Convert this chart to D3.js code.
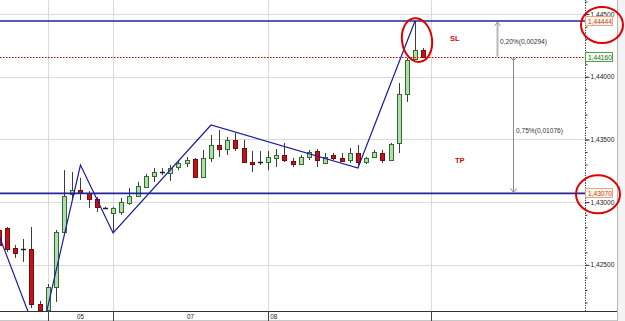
<!DOCTYPE html>
<html><head><meta charset="utf-8">
<script src="https://cdn.jsdelivr.net/npm/d3@7"></script>
<style>html,body{margin:0;padding:0;background:#fff;overflow:hidden}svg{display:block}text{font-family:"Liberation Sans",Arial,sans-serif}</style>
</head><body><svg id="c" width="625" height="321"></svg>
<script>
// ---- data ----
const idx    = [-1,0,1,2,3,4,5,6,7,8,9,10,11,12,13,14,15,16,17,18,19,20,21,22,23,24,25,26,27,28,29,30,31,32,33,34,35,36,37,38,39,40,41,42,43,44,45,46,47,48,49,50,51];
const opens  = [1.42778,1.42794,1.42634,1.42626,1.42626,1.42188,1.42140,1.42323,1.42762,1.43065,1.43097,1.43073,1.43025,1.42954,1.42914,1.42922,1.42993,1.43049,1.43121,1.43209,1.43240,1.43233,1.43280,1.43312,1.43344,1.43201,1.43352,1.43456,1.43424,1.43496,1.43432,1.43320,1.43320,1.43320,1.43352,1.43376,1.43328,1.43304,1.43360,1.43408,1.43312,1.43376,1.43352,1.43336,1.43392,1.43320,1.43360,1.43392,1.43336,1.43472,1.43862,1.44142,1.44213];
const highs  = [1.42810,1.42802,1.42658,1.42706,1.42802,1.42212,1.42347,1.42778,1.43256,1.43240,1.43193,1.43089,1.43041,1.42962,1.42962,1.43033,1.43113,1.43161,1.43225,1.43272,1.43272,1.43296,1.43336,1.43360,1.43352,1.43416,1.43535,1.43575,1.43520,1.43551,1.43496,1.43408,1.43408,1.43408,1.43424,1.43472,1.43352,1.43376,1.43416,1.43424,1.43392,1.43392,1.43392,1.43432,1.43456,1.43360,1.43416,1.43416,1.43472,1.43950,1.44150,1.44445,1.44229];
const lows   = [1.42618,1.42603,1.42555,1.42523,1.42156,1.41950,1.42092,1.42204,1.42754,1.43017,1.43017,1.42954,1.42922,1.42946,1.42762,1.42898,1.42977,1.43041,1.43113,1.43161,1.43217,1.43169,1.43256,1.43280,1.43193,1.43193,1.43320,1.43360,1.43376,1.43408,1.43312,1.43240,1.43296,1.43256,1.43280,1.43320,1.43280,1.43296,1.43336,1.43280,1.43304,1.43336,1.43320,1.43312,1.43296,1.43304,1.43352,1.43312,1.43328,1.43392,1.43799,1.44134,1.44158];
const closes = [1.42658,1.42626,1.42595,1.42626,1.42188,1.42140,1.42323,1.42762,1.43049,1.43097,1.43073,1.43025,1.42962,1.42954,1.42954,1.43001,1.43049,1.43129,1.43209,1.43240,1.43240,1.43272,1.43312,1.43336,1.43201,1.43352,1.43456,1.43424,1.43496,1.43432,1.43320,1.43304,1.43320,1.43360,1.43376,1.43336,1.43304,1.43360,1.43400,1.43336,1.43360,1.43352,1.43328,1.43392,1.43320,1.43352,1.43400,1.43336,1.43464,1.43862,1.44134,1.44213,1.44160];

const zigIdx   = [-1, 4, 9, 13, 25, 43, 50];
const zigPrice = [1.42738, 1.41885, 1.43296, 1.42754, 1.43615, 1.43272, 1.44445];

const priceTicks = [1.425, 1.430, 1.435, 1.440, 1.445];
const priceTickLabels = ["1,42500", "1,43000", "1,43500", "1,44000", "1,44500"];
const periodBounds = [5, 13, 32, 52];
const periodLabels = ["05", "07", "08"];

const levelSL = 1.44444, levelTP = 1.43070, lastPrice = 1.44160;
const levelLabels = ["1,44444", "1,44160", "1,43070"];
const distLabels = ["0,20%(0,00294)", "0,75%(0,01076)"];
const zoneLabels = ["SL", "TP"];

// ---- layout ----
const svg = d3.select("#c");
const plotR = 585, plotB = 311;
const x = d3.scaleLinear().domain([-0.858, 70.83]).range([0, plotR]);
const y = d3.scaleLinear().domain([1.42132, 1.44612]).range([plotB, 0]);
const px = v => Math.round(v) + 0.5;

svg.append("rect").attr("width", 625).attr("height", 321).attr("fill", "#fff");
svg.append("rect").attr("x", 617).attr("y", 0).attr("width", 8).attr("height", 321).attr("fill", "#f3f3f3");

svg.append("defs").append("clipPath").attr("id", "pc")
  .append("rect").attr("x", 0).attr("y", 0).attr("width", plotR).attr("height", plotB);

// grid
const grid = svg.append("g");
grid.selectAll(".hg").data(priceTicks).join("line")
  .attr("x1", 0).attr("x2", plotR).attr("y1", d => px(y(d))).attr("y2", d => px(y(d)))
  .attr("stroke", "#dadada").attr("stroke-width", 1);
grid.selectAll(".vg").data(periodBounds).join("line")
  .attr("x1", d => px(x(d))).attr("x2", d => px(x(d))).attr("y1", 0).attr("y2", plotB)
  .attr("stroke", "#dadada").attr("stroke-width", 1);

const plot = svg.append("g").attr("clip-path", "url(#pc)");

// candles
const candles = idx.map((k, i) => ({k, o: opens[i], h: highs[i], l: lows[i], c: closes[i]}));
const cg = plot.append("g");
cg.selectAll(".wick").data(candles).join("line")
  .attr("x1", d => px(x(d.k))).attr("x2", d => px(x(d.k)))
  .attr("y1", d => y(d.h)).attr("y2", d => y(d.l))
  .attr("stroke", "#3c3c3c").attr("stroke-width", 1);
cg.selectAll(".body").data(candles.filter(d => d.o !== d.c)).join("rect")
  .attr("x", d => Math.round(x(d.k)) - 1.5)
  .attr("width", 4)
  .attr("y", d => Math.round(y(Math.max(d.o, d.c))) + 0.5)
  .attr("height", d => Math.max(1, Math.round(y(Math.min(d.o, d.c))) - Math.round(y(Math.max(d.o, d.c)))))
  .attr("fill", d => d.c > d.o ? "#b3dcad" : "#c0141a")
  .attr("stroke", d => d.c > d.o ? "#2f6e2f" : "#7a0a0a").attr("stroke-width", 1);
cg.selectAll(".doji").data(candles.filter(d => d.o === d.c)).join("line")
  .attr("x1", d => Math.round(x(d.k)) - 2).attr("x2", d => Math.round(x(d.k)) + 3)
  .attr("y1", d => px(y(d.o))).attr("y2", d => px(y(d.o)))
  .attr("stroke", "#222").attr("stroke-width", 1.5);

// zigzag
plot.append("path")
  .attr("d", d3.line().x(d => x(d[0])).y(d => y(d[1]))(zigIdx.map((k, i) => [k, zigPrice[i]])))
  .attr("fill", "none").attr("stroke", "#1c1ca0").attr("stroke-width", 1.2);

// levels
svg.selectAll(".lvl").data([levelSL, levelTP]).join("line")
  .attr("x1", 0).attr("x2", plotR + 2).attr("y1", d => y(d)).attr("y2", d => y(d))
  .attr("stroke", "#23239a").attr("stroke-width", 1.6);
svg.append("line").attr("x1", 0).attr("x2", plotR).attr("y1", px(y(lastPrice))).attr("y2", px(y(lastPrice)))
  .attr("stroke", "#c00000").attr("stroke-width", 1).attr("stroke-dasharray", "1.5,1.5");

// distance arrows
const a1x = 497.5, a2x = 513.5;
svg.append("line").attr("x1", a1x).attr("x2", a1x).attr("y1", y(lastPrice)).attr("y2", y(levelSL) + 1)
  .attr("stroke", "#b9b9b9").attr("stroke-width", 2);
svg.append("path").attr("d", `M${a1x-3},${y(levelSL)+5} L${a1x},${y(levelSL)+1} L${a1x+3},${y(levelSL)+5}`)
  .attr("fill", "none").attr("stroke", "#999").attr("stroke-width", 1);
svg.append("line").attr("x1", a2x).attr("x2", a2x).attr("y1", y(lastPrice) + 1).attr("y2", y(levelTP) - 1)
  .attr("stroke", "#8a8a8a").attr("stroke-width", 1);
svg.append("path").attr("d", `M${a2x-3},${y(levelTP)-5} L${a2x},${y(levelTP)-1} L${a2x+3},${y(levelTP)-5}`)
  .attr("fill", "none").attr("stroke", "#8a8a8a").attr("stroke-width", 1);
svg.append("path").attr("d", `M${a2x-2.5},${y(lastPrice)+1} L${a2x},${y(lastPrice)+4} L${a2x+2.5},${y(lastPrice)+1}`)
  .attr("fill", "none").attr("stroke", "#8a8a8a").attr("stroke-width", 1);
svg.append("text").attr("x", 500).attr("y", (y(lastPrice) + y(levelSL)) / 2 + 5)
  .attr("font-size", 6.6).attr("fill", "#333").text(distLabels[0]);
svg.append("text").attr("x", 516).attr("y", (y(lastPrice) + y(levelTP)) / 2 + 8)
  .attr("font-size", 6.6).attr("fill", "#333").text(distLabels[1]);

// SL / TP
svg.append("text").attr("x", 450).attr("y", (y(levelSL) + y(lastPrice)) / 2 + 2.5)
  .attr("font-size", 7.5).attr("font-weight", "bold").attr("fill", "#c41010").text(zoneLabels[0]);
svg.append("text").attr("x", 455).attr("y", 163)
  .attr("font-size", 7.5).attr("font-weight", "bold").attr("fill", "#c41010").text(zoneLabels[1]);

// right axis
const ax = svg.append("g").attr("transform", `translate(${plotR + 0.5},0)`);
ax.call(d3.axisRight(y).tickValues(d3.range(1.422, 1.4461, 0.001)).tickSize(2).tickFormat(""));
ax.append("g").call(d3.axisRight(y).tickValues(priceTicks).tickSize(4)
  .tickFormat((d, i) => priceTickLabels[i]).tickPadding(1));
ax.selectAll("path.domain").attr("stroke", "#333").attr("stroke-dasharray", "1,1.5").attr("d", `M0,0V${plotB}`);
ax.selectAll(".tick line").attr("stroke", "#333");
ax.selectAll(".tick text").attr("font-size", 6.6).attr("fill", "#222").attr("font-family", "Liberation Sans, Arial, sans-serif");

svg.append("line").attr("x1", 617.5).attr("x2", 617.5).attr("y1", 0).attr("y2", 321).attr("stroke", "#b5b5b5");

// level label boxes
const boxes = [
  {v: levelSL, t: levelLabels[0], stroke: "#e6a57a", fill: "#fff6ee", color: "#c43a14"},
  {v: lastPrice, t: levelLabels[1], stroke: "#4aa54a", fill: "#f6fff2", color: "#1f5f1f"},
  {v: levelTP, t: levelLabels[2], stroke: "#e6a57a", fill: "#fff6ee", color: "#c43a14"}
];
const bg = svg.append("g");
bg.selectAll("rect").data(boxes).join("rect")
  .attr("x", plotR + 0.5).attr("y", d => Math.round(y(d.v)) - 4.5).attr("width", 27).attr("height", 9)
  .attr("fill", d => d.fill).attr("stroke", d => d.stroke);
bg.selectAll("text").data(boxes).join("text")
  .attr("x", plotR + 3).attr("y", d => Math.round(y(d.v)) + 2.5)
  .attr("font-size", 6.6).attr("fill", d => d.color).text(d => d.t);

// bottom axis strip
svg.append("line").attr("x1", 0).attr("x2", 617).attr("y1", plotB + 0.5).attr("y2", plotB + 0.5).attr("stroke", "#333");
svg.append("line").attr("x1", 0).attr("x2", 617).attr("y1", 320.5).attr("y2", 320.5).attr("stroke", "#c8c8c8");
svg.selectAll(".pb").data(periodBounds).join("line")
  .attr("x1", d => px(x(d))).attr("x2", d => px(x(d))).attr("y1", plotB).attr("y2", 321)
  .attr("stroke", "#444");
svg.selectAll(".pl").data(periodLabels).join("text")
  .attr("x", (d, i) => i < periodLabels.length - 1 ? (x(periodBounds[i]) + x(periodBounds[i + 1])) / 2 : x(periodBounds[i]) + 2)
  .attr("text-anchor", (d, i) => i < periodLabels.length - 1 ? "middle" : "start")
  .attr("y", 318.5).attr("font-size", 6.3).attr("fill", "#222").text(d => d);

// hand-drawn red circles
const circ = svg.append("g").attr("fill", "none").attr("stroke", "#e00000").attr("stroke-width", 2);
circ.append("ellipse").attr("cx", x(50) + 2).attr("cy", y(levelSL) + 19).attr("rx", 15).attr("ry", 22)
  .attr("transform", `rotate(-8,${x(50) + 2},${y(levelSL) + 19})`);
circ.append("ellipse").attr("cx", 602).attr("cy", y(levelSL) + 4).attr("rx", 21).attr("ry", 18);
circ.append("ellipse").attr("cx", 598).attr("cy", y(levelTP) + 1).attr("rx", 22).attr("ry", 19);
</script>
</body></html>
